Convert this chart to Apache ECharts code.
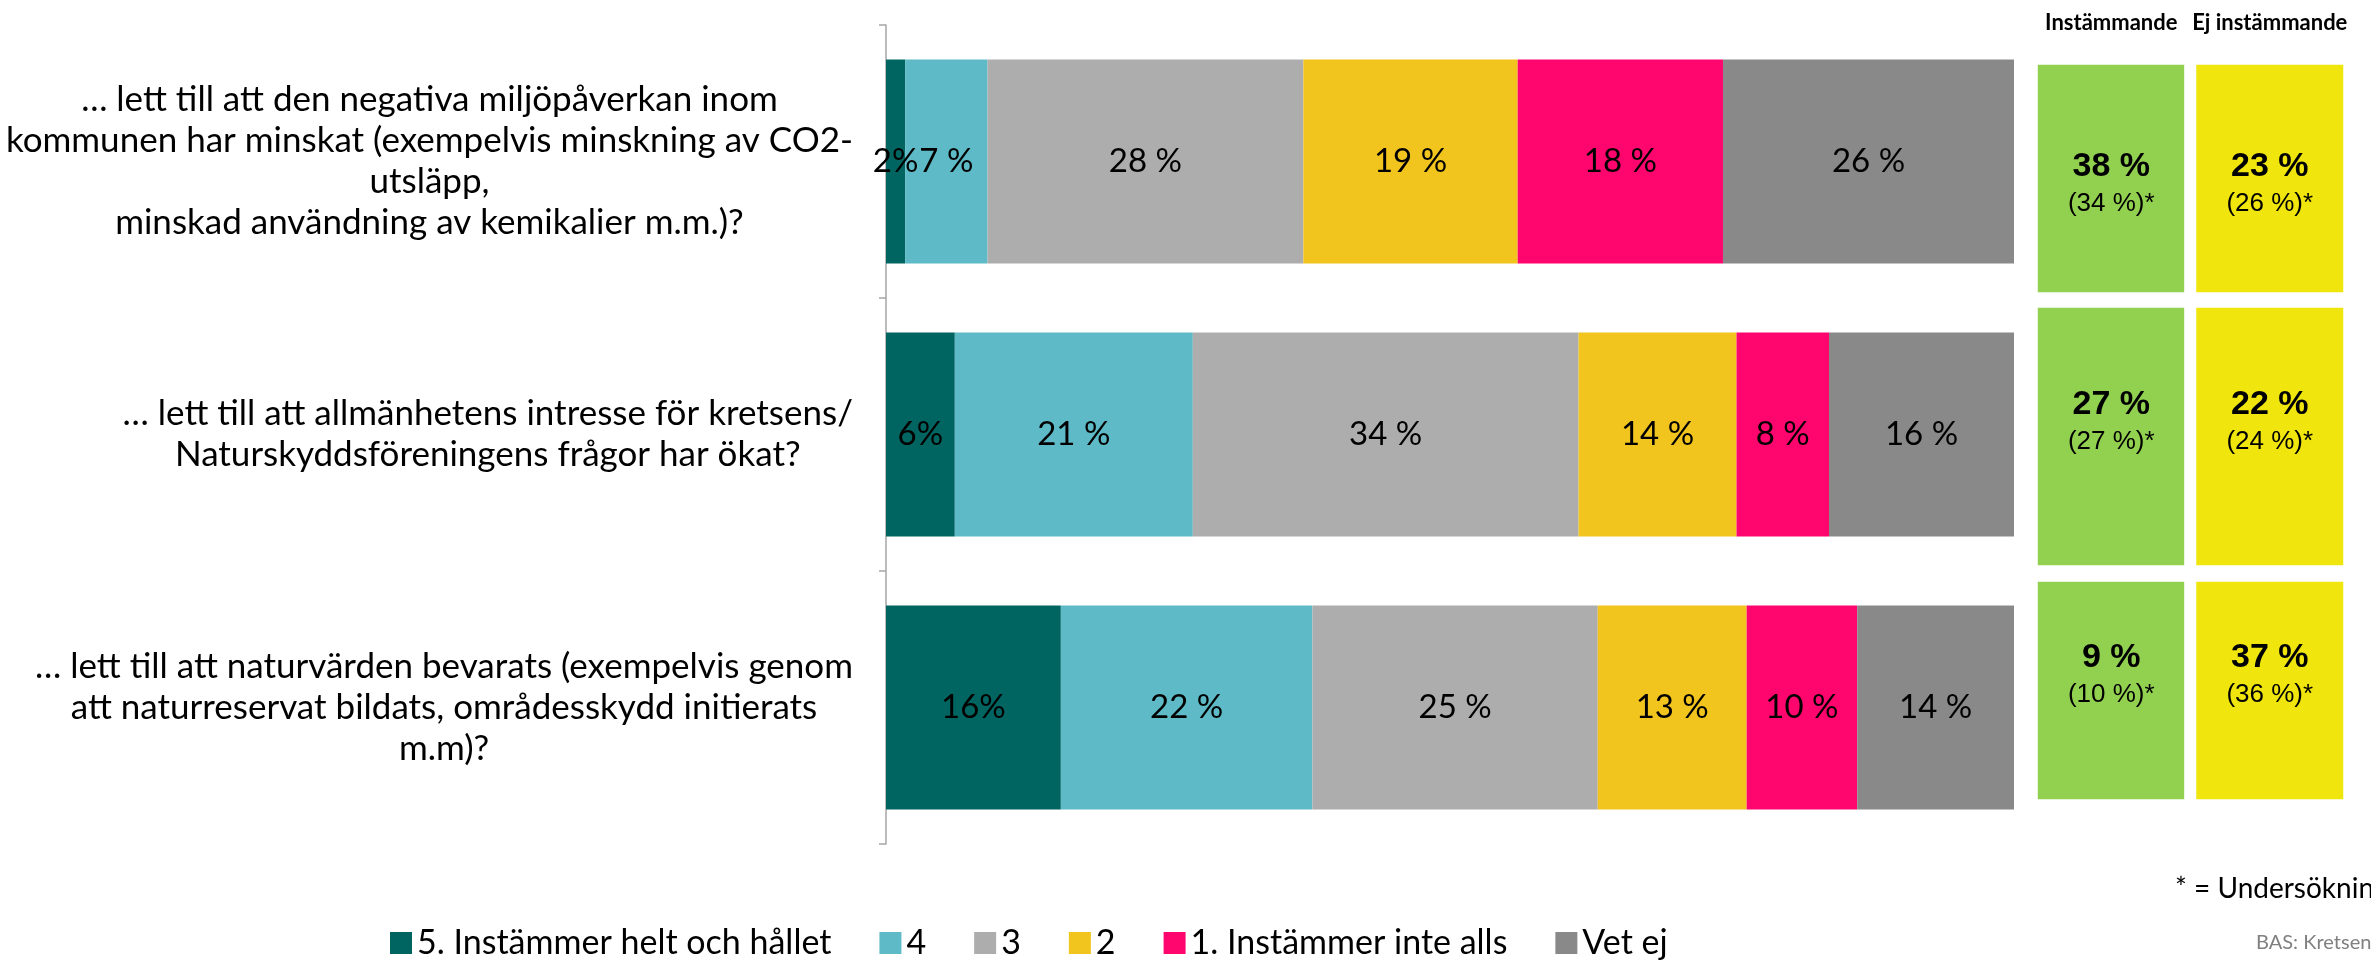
<!DOCTYPE html>
<html>
<head>
<meta charset="utf-8">
<title>Kretsen</title>
<script src="https://cdn.jsdelivr.net/npm/echarts@6/dist/echarts.min.js"></script>
<style>
    html, body { margin: 0; padding: 0; background: #fff; }
    #main { width: 2371px; height: 960px; }
</style>
</head>
<body>
<div id="main"></div>
<script>
// frågor (kategorier)
const QUESTIONS = [
    "… lett till att den negativa miljöpåverkan inom\nkommunen har minskat (exempelvis minskning av CO2-\nutsläpp,\nminskad användning av kemikalier m.m.)?",
    "… lett till att allmänhetens intresse för kretsens/\nNaturskyddsföreningens frågor har ökat?",
    "… lett till att naturvärden bevarats (exempelvis genom\natt naturreservat bildats, områdesskydd initierats\nm.m)?",
]
const ANSWERS = ["5. Instämmer helt och hållet", "4", "3", "2", "1. Instämmer inte alls", "Vet ej"]
const COLORS = ["#006461", "#5DBAC6", "#ADADAD", "#F2C41E", "#FF066F", "#898989"]

// andelar i procent, en array per svarsalternativ (fråga 1..3)
const ANS_5 = [1.7, 6.1, 15.5]
const ANS_4 = [7.3, 21.1, 22.3]
const ANS_3 = [28.0, 34.2, 25.3]
const ANS_2 = [19.0, 14.0, 13.2]
const ANS_1 = [18.2, 8.2, 9.8]
const ANS_VET = [25.8, 16.4, 13.9]
const SERIES_VALUES = [ANS_5, ANS_4, ANS_3, ANS_2, ANS_1, ANS_VET]

// summeringsrutor till höger
const SUMMARY_COLS = ["Instämmande", "Ej instämmande"]
const AGREE = [38, 27, 9]
const AGREE_PREV = [34, 27, 10]
const DISAGREE = [23, 22, 37]
const DISAGREE_PREV = [26, 24, 36]

const FONT = "Lato"
// rutornas placering (grid per fråga)
const BOX_GRIDS = [
    { top: 59, height: 239, dy: 6 },
    { top: 302, height: 269, dy: -14 },
    { top: 576, height: 229, dy: -15 },
]

const myChart = echarts.init(document.getElementById("main"))

const grids = [{ left: 886, top: 25, width: 1128, height: 819 }]
const xAxes = [{ type: "value", min: 0, max: 100, show: false, gridIndex: 0 }]
const yAxes = [
    {
        type: "category",
        gridIndex: 0,
        inverse: true,
        data: QUESTIONS,
        axisLine: { show: true, lineStyle: { color: "#a6a6a6", width: 1.5 } },
        axisTick: { show: true, length: 7, lineStyle: { color: "#a6a6a6", width: 1.5 } },
        axisLabel: {
            margin: 33,
            align: "right",
            formatter: v => v.split("\n").map(l => "{c|" + l + "}").join("\n"),
            rich: {
                c: { align: "center", fontFamily: FONT, fontSize: 35, lineHeight: 41, color: "#000" },
            },
        },
    },
]

const series = ANSWERS.map((name, i) => ({
    name: name,
    type: "bar",
    stack: "total",
    xAxisIndex: 0,
    yAxisIndex: 0,
    barWidth: 204,
    itemStyle: { color: COLORS[i] },
    label: {
        show: true,
        position: "inside",
        color: "#000",
        fontFamily: FONT,
        fontSize: 33,
        // första kolumnen saknar mellanslag i originalet
        formatter: p => Math.round(p.value) + (i === 0 ? "%" : " %"),
    },
    data: SERIES_VALUES[i],
}))

BOX_GRIDS.forEach((g, r) => {
    const gi = r + 1
    grids.push({ left: 2032, width: 317, top: g.top, height: g.height })
    xAxes.push({
        type: "category",
        gridIndex: gi,
        position: "top",
        data: SUMMARY_COLS,
        axisLine: { show: false },
        axisTick: { show: false },
        axisLabel: {
            show: r === 0,
            interval: 0,
            margin: 25,
            fontFamily: FONT,
            fontWeight: "bold",
            fontSize: 22,
            color: "#000",
        },
    })
    yAxes.push({ type: "category", gridIndex: gi, data: [QUESTIONS[r]], show: false })
    series.push({
        type: "heatmap",
        xAxisIndex: gi,
        yAxisIndex: gi,
        itemStyle: { borderColor: "#fff", borderWidth: 12 },
        emphasis: { disabled: true },
        label: {
            show: true,
            formatter: p => "{b|" + p.data.value[2] + " %}\n{s|(" + p.data.value[3] + " %)*}",
            rich: {
                b: { fontFamily: "Liberation Sans", fontWeight: "bold", fontSize: 34, color: "#000", lineHeight: 38 },
                s: { fontFamily: "Liberation Sans", fontSize: 26, color: "#000", lineHeight: 36 },
            },
            offset: [0, g.dy],
        },
        data: [
            { value: [0, 0, AGREE[r], AGREE_PREV[r]], itemStyle: { color: "#92D050" } },
            { value: [1, 0, DISAGREE[r], DISAGREE_PREV[r]], itemStyle: { color: "#F0E60E" } },
        ],
    })
})

myChart.setOption({
    animation: false,
    backgroundColor: "#fff",
    textStyle: { fontFamily: FONT },
    legend: {
        data: ANSWERS,
        left: 385,
        top: 921,
        icon: "rect",
        itemWidth: 22,
        itemHeight: 22,
        itemGap: 48,
        textStyle: { fontFamily: FONT, fontSize: 34, color: "#000" },
    },
    grid: grids,
    xAxis: xAxes,
    yAxis: yAxes,
    series: series,
    graphic: [
        {
            type: "text",
            x: 2175,
            y: 889,
            style: { text: "* = Undersökning", font: "28px " + FONT, fill: "#000", verticalAlign: "middle" },
        },
        {
            type: "text",
            x: 2256,
            y: 943,
            style: { text: "BAS: Kretsen", font: "20px " + FONT, fill: "#808080", verticalAlign: "middle" },
        },
    ],
})

window.addEventListener("resize", function () {
    myChart.resize()
})
</script>
</body>
</html>
